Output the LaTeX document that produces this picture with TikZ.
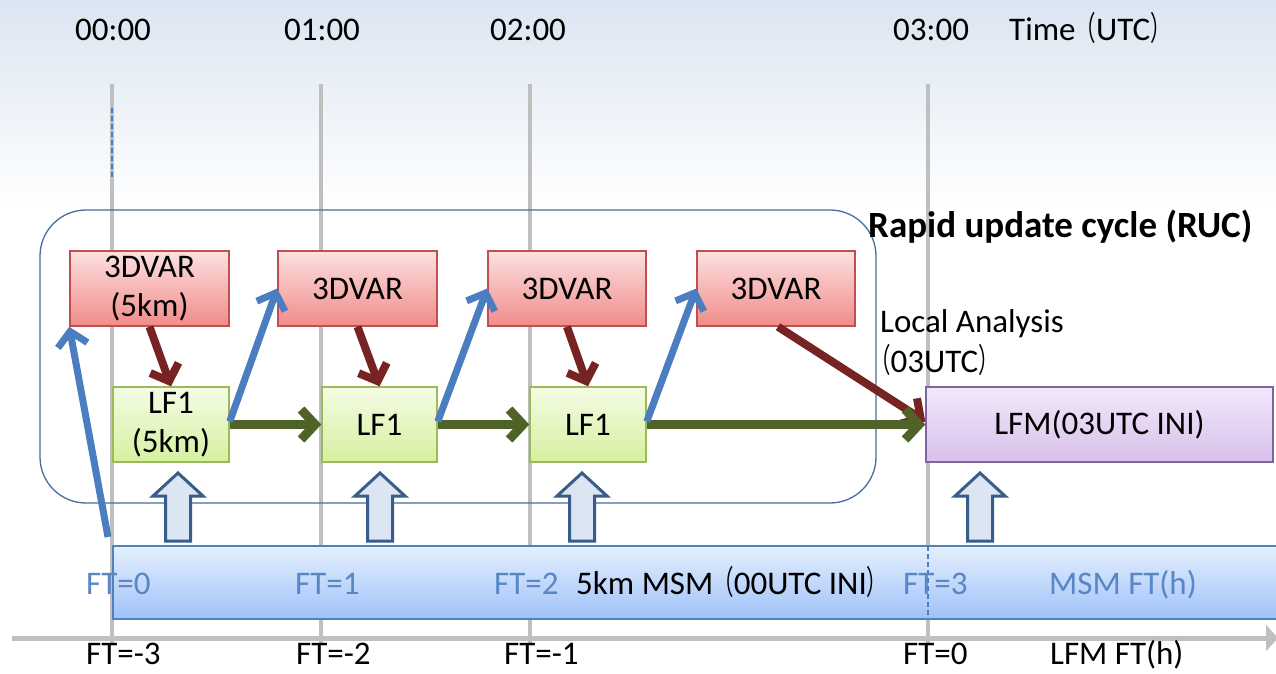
\documentclass[tikz,border=0pt]{standalone}
\usepackage{fontspec}
\usepackage{graphicx}
\setmainfont{Carlito}
\newfontfamily\cjk{Noto Sans CJK JP}
\usetikzlibrary{arrows.meta,calc}

\definecolor{gridgray}{RGB}{191,191,191}
\definecolor{rucblue}{RGB}{70,108,160}
\definecolor{varborder}{RGB}{192,80,77}
\definecolor{vartop}{RGB}{252,224,224}
\definecolor{varbot}{RGB}{240,140,138}
\definecolor{lfborder}{RGB}{155,187,89}
\definecolor{lftop}{RGB}{244,252,228}
\definecolor{lfbot}{RGB}{214,240,160}
\definecolor{lfmborder}{RGB}{128,100,162}
\definecolor{lfmtop}{RGB}{242,232,250}
\definecolor{lfmbot}{RGB}{216,192,234}
\definecolor{msmborder}{RGB}{79,129,189}
\definecolor{msmtop}{RGB}{228,239,254}
\definecolor{msmbot}{RGB}{160,194,248}
\definecolor{ftblue}{RGB}{88,134,198}
\definecolor{arrblue}{RGB}{74,126,193}
\definecolor{arrred}{RGB}{120,35,35}
\definecolor{arrgreen}{RGB}{79,98,40}
\definecolor{hollowfill}{RGB}{220,230,242}
\definecolor{hollowedge}{RGB}{56,93,138}
\definecolor{skytop}{RGB}{219,229,241}

\newcommand\bigtxt{\fontsize{33}{39}\selectfont}
\newcommand\titletxt{\fontsize{37}{40}\selectfont\bfseries}
% narrowed full-width brackets
\newcommand\lpar{\scalebox{0.62}[1]{\cjk （}}
\newcommand\rpar{\scalebox{0.62}[1]{\cjk ）}}

\tikzset{
  box/.style={draw, line width=1.5pt, inner sep=0pt, align=center,
    minimum height=75pt, font=\bigtxt},
  varbox/.style={box, draw=varborder, top color=vartop, bottom color=varbot},
  lfbox/.style={box, draw=lfborder, top color=lftop, bottom color=lfbot},
  lfmbox/.style={box, draw=lfmborder, top color=lfmtop, bottom color=lfmbot},
  label/.style={anchor=base west, inner sep=0pt, font=\bigtxt},
  ftlabel/.style={label, text=ftblue},
  gridline/.style={draw=gridgray, line width=4pt},
  flow/.style={line width=8pt, -{Straight Barb[length=14pt,width=30pt]}},
  feed/.style={flow, draw=arrblue, line width=7pt},
  anal/.style={flow, draw=arrred},
  fcst/.style={flow, draw=arrgreen, line width=9pt},
  hollow/.style={draw=hollowedge, fill=hollowfill, line width=3pt, line join=miter},
}

\begin{document}
\begin{tikzpicture}[x=1pt, y=-1pt]
  \clip (0,0) rectangle (1276,673);
  \fill[white] (0,0) rectangle (1276,673);
  \shade[top color=skytop, bottom color=white] (0,0) rectangle (1276,210);

  % hour grid lines
  \foreach \x in {112,321,530,928}
    \draw[gridline] (\x,84) -- (\x,645);
  \draw[arrblue, line width=1.6pt, dash pattern=on 5pt off 3pt] (112,108) -- (112,178);

  % time axis
  \draw[draw=gridgray, line width=5pt, -{Triangle[length=12pt,width=26pt]}] (12,638) -- (1278,638);

  % rapid update cycle frame
  \node[draw=rucblue, line width=1.3pt, rounded corners=46pt,
        minimum width=836pt, minimum height=293pt, inner sep=0pt] (ruc) at (458,356.5) {};

  % MSM forecast band
  \node[draw=msmborder, line width=1.8pt, top color=msmtop, bottom color=msmbot,
        minimum width=1190pt, minimum height=73pt, inner sep=0pt, anchor=north west]
        (msm) at (112,545) {};
  \draw[arrblue, line width=1.4pt, dash pattern=on 5pt off 3pt] (928,546) -- (928,617);

  % clock labels
  \node[label] (t0) at (75,40) {00:00};
  \node[label] (t1) at (284,40) {01:00};
  \node[label] (t2) at (490,40) {02:00};
  \node[label] (t3) at (893,40) {03:00};
  \node[label] (tu) at (1009,40) {Time\lpar UTC\rpar};

  % MSM forecast times
  \node[ftlabel] (m0) at (86,594) {FT=0};
  \node[ftlabel] (m1) at (295,594) {FT=1};
  \node[ftlabel] (m2) at (494,594) {FT=2};
  \node[label] (mn) at (576,594) {5km MSM\lpar 00UTC INI\rpar};
  \node[ftlabel] (m3) at (903,594) {FT=3};
  \node[ftlabel] (mu) at (1049,594) {MSM FT(h)};

  % LFM forecast times
  \node[label] (f3) at (86,664) {FT=-3};
  \node[label] (f2) at (296,664) {FT=-2};
  \node[label] (f1) at (504,664) {FT=-1};
  \node[label] (f0) at (903,664) {FT=0};
  \node[label] (fu) at (1050,664) {LFM FT(h)};

  % titles
  \node[anchor=base west, inner sep=0pt, font=\titletxt] (title) at (868,237)
    {Rapid update cycle (RUC)};
  \node[label] (la) at (880,332) {Local Analysis};
  \node[label] (lt) at (870,372) {\lpar 03UTC\rpar};

  % analysis and forecast boxes
  \node[varbox, minimum width=159pt] (v1) at (149.5,288.5) {3DVAR\\(5km)};
  \node[varbox, minimum width=159pt] (v2) at (357.5,288.5) {3DVAR};
  \node[varbox, minimum width=158pt] (v3) at (567,288.5) {3DVAR};
  \node[varbox, minimum width=158pt] (v4) at (776,288.5) {3DVAR};
  \node[lfbox, minimum width=116pt] (l1) at (171,424.5) {LF1\\(5km)};
  \node[lfbox, minimum width=115pt] (l2) at (379.5,424.5) {LF1};
  \node[lfbox, minimum width=116pt] (l3) at (588,424.5) {LF1};
  \node[lfmbox, minimum width=347pt] (lfm) at (1099.5,424.5) {LFM(03UTC INI)};

  % analysis -> forecast
  \draw[anal] (v1.south) -- (l1.north);
  \draw[anal] (v2.south) -- (l2.north);
  \draw[anal] (v3.south) -- (l3.north);
  \draw[anal] ([xshift=2pt]v4.south) -- ([yshift=3pt]lfm.west);

  % forecast -> forecast
  \draw[fcst] (l1.east) -- (l2.west);
  \draw[fcst] (l2.east) -- (l3.west);
  \draw[fcst] (l3.east) -- (lfm.west);

  % first guess -> analysis
  \coordinate (g0) at ([xshift=-4pt,yshift=8pt]msm.north west);
  \draw[feed] (g0) -- (v1.south west);
  \draw[feed] ([yshift=3pt]l1.east) -- (v2.west);
  \draw[feed] ([yshift=3pt]l2.east) -- (v3.west);
  \draw[feed] ([yshift=3pt]l3.east) -- (v4.west);

  % boundary conditions from MSM
  \foreach \c in {178,380,582,980}
    \draw[hollow] (\c,473) -- (\c+25,496) -- (\c+12.5,496) -- (\c+12.5,541)
      -- (\c-12.5,541) -- (\c-12.5,496) -- (\c-25,496) -- cycle;
\end{tikzpicture}
\end{document}
